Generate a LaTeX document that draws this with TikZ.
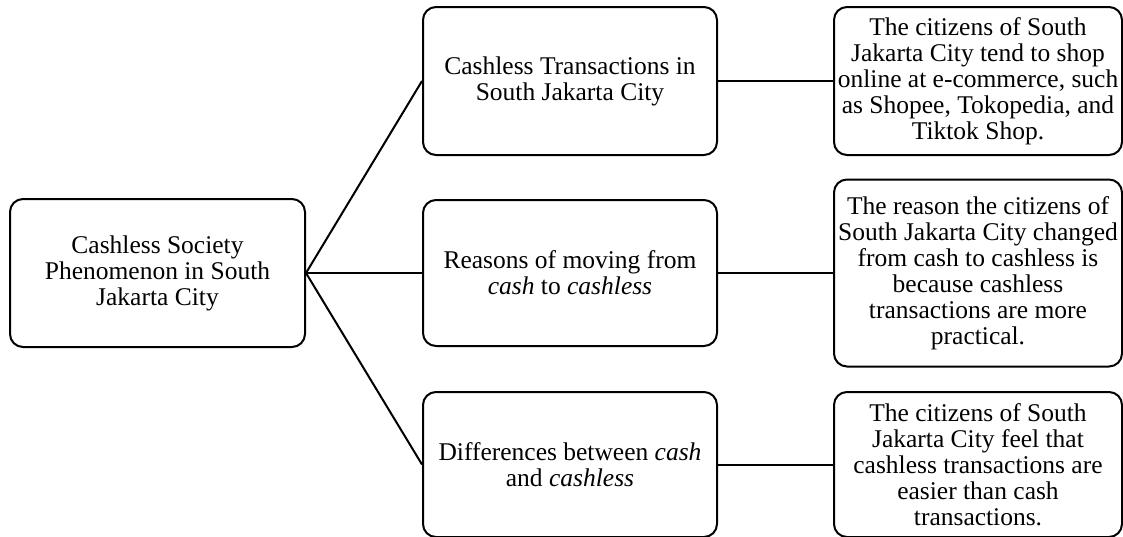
\documentclass[tikz,border=0pt]{standalone}
\usepackage{fontspec}
\setmainfont{Liberation Serif}
\begin{document}
\begin{tikzpicture}[x=1pt,y=-1pt,
	box/.style={draw, line width=2pt, rounded corners=13pt, align=center, inner sep=2pt, font=\fontsize{25.5}{26}\selectfont},
	midbox/.style={box, minimum width=294pt, minimum height=146pt},
	endbox/.style={box, minimum width=288pt, minimum height=146pt},
	link/.style={line width=2pt}
	]
	\useasboundingbox (0,0) rectangle (1123,536);
	\node [box, minimum width=295pt, minimum height=148pt] (society) at (157.5,273) {Cashless Society\\Phenomenon in South\\Jakarta City};
	% middle column
	\node [midbox, minimum height=148pt] (transactions) at (570,81) {Cashless Transactions in\\South Jakarta City};
	\node [midbox] (reasons) at (570,273) {Reasons of moving from\\\textit{cash} to \textit{cashless}};
	\node [midbox, minimum height=145pt] (differences) at (570,464.5) {Differences between \textit{cash}\\and \textit{cashless}};
	% right column
	\node [endbox, minimum height=148pt] (shop) at (978,81) {The citizens of South\\Jakarta City tend to shop\\online at e-commerce, such\\as Shopee, Tokopedia, and\\Tiktok Shop.};
	\node [endbox, minimum height=187pt] (practical) at (978,273) {The reason the citizens of\\South Jakarta City changed\\from cash to cashless is\\because cashless\\transactions are more\\practical.};
	\node [endbox, minimum height=145pt] (easier) at (978,464.5) {The citizens of South\\Jakarta City feel that\\cashless transactions are\\easier than cash\\transactions.};
	\draw [link] (society.east) -- (transactions.west);
	\draw [link] (society.east) -- (reasons.west);
	\draw [link] (society.east) -- (differences.west);
	\draw [link] (transactions.east) -- (shop.west);
	\draw [link] (reasons.east) -- (practical.west);
	\draw [link] (differences.east) -- (easier.west);
\end{tikzpicture}
\end{document}
